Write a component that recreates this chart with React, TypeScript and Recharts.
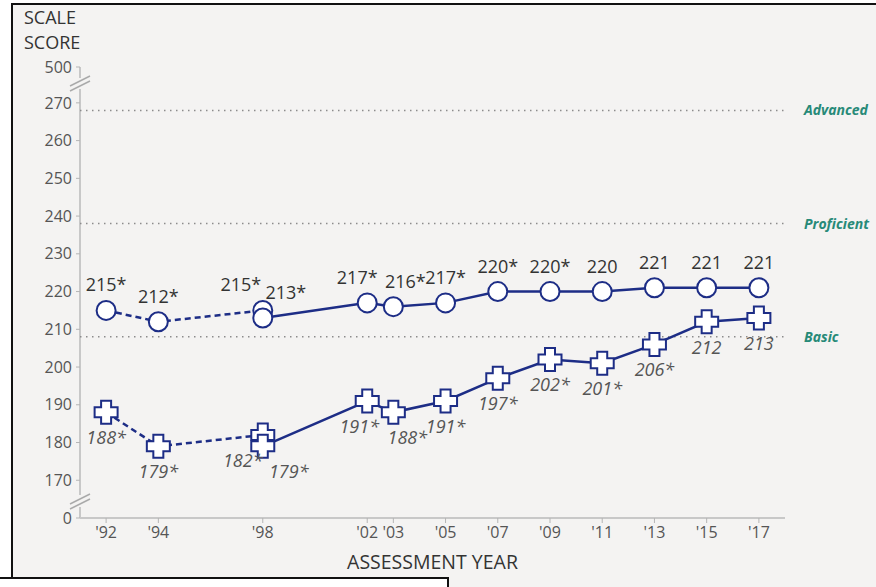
import React from 'react';
import { LineChart, Line, XAxis, YAxis, ReferenceLine, LabelList } from 'recharts';

// ---- data ----
const tickYears = [1992, 1994, 1998, 2002, 2003, 2005, 2007, 2009, 2011, 2013, 2015, 2017];
const tickYearLabels = ["'92", "'94", "'98", "'02", "'03", "'05", "'07", "'09", "'11", "'13", "'15", "'17"];
const pointYears = [1992, 1994, 1998, 1998, 2002, 2003, 2005, 2007, 2009, 2011, 2013, 2015, 2017];
const accommodationsPermitted = [false, false, false, true, true, true, true, true, true, true, true, true, true];
const circleScores = [215, 212, 215, 213, 217, 216, 217, 220, 220, 220, 221, 221, 221];
const circleSignificant = [true, true, true, true, true, true, true, true, true, false, false, false, false];
const plusScores = [188, 179, 182, 179, 191, 188, 191, 197, 202, 201, 206, 212, 213];
const plusSignificant = [true, true, true, true, true, true, true, true, true, true, true, false, false];
const scaleTickValues = [0, 170, 180, 190, 200, 210, 220, 230, 240, 250, 260, 270, 500];
const levelNames = ['Advanced', 'Proficient', 'Basic'];
const levelCutScores = [268, 238, 208];
const yAxisTitleLines = ['SCALE', 'SCORE'];

// ---- style ----
const FONT = '"Open Sans", "DejaVu Sans", sans-serif';
const NAVY = '#1d2d86';
const TEAL = '#278a78';
const AXIS = '#c8c8c8';
const W = 876;
const H = 587;

// axis break: 0 and 500 are drawn at the ends of the compressed scale
const LOW = 160;
const HIGH = 279.5;
const toDisplay = (v: number) => (v === 0 ? LOW : v === 500 ? HIGH : v);
const yTicks = scaleTickValues.map(toDisplay);

const circleDx: Record<number, number> = { 2: -22, 3: 23, 4: -10, 5: 12 };
const plusDx: Record<number, number> = { 2: -20, 3: 26, 4: -8, 5: 14 };

const segment = (scores: number[], permitted: boolean) =>
  pointYears
    .map((year, i) => ({ year, score: scores[i], idx: i }))
    .filter((d) => accommodationsPermitted[d.idx] === permitted);

const CircleDot = (p: any) => {
  const { cx, cy, index } = p;
  if (cx == null || cy == null) return <g key={`c${index}`} />;
  return <circle key={`c${index}-${cx}-${cy}`} cx={cx} cy={cy} r={9.5} fill="#fff" stroke={NAVY} strokeWidth={2} />;
};

const PlusDot = (p: any) => {
  const { cx, cy, index } = p;
  if (cx == null || cy == null) return <g key={`p${index}`} />;
  const a = 11.5;
  const b = 5;
  const d = `M${cx - b},${cy - a} H${cx + b} V${cy - b} H${cx + a} V${cy + b} H${cx + b} V${cy + a} H${cx - b} V${cy + b} H${cx - a} V${cy - b} H${cx - b} Z`;
  return <path key={`p${index}-${cx}-${cy}`} d={d} fill="#fff" stroke={NAVY} strokeWidth={2} />;
};

const circleLabel = (p: any) => {
  const { x, y, value } = p;
  const i = value as number;
  const txt = `${circleScores[i]}${circleSignificant[i] ? '*' : ''}`;
  return (
    <text key={`cl${i}`} x={x + (circleDx[i] || 0)} y={y - 26} textAnchor="middle" dominantBaseline="central"
      fontSize={18} fill="#333" fontFamily={FONT}>
      {txt}
    </text>
  );
};

const plusLabel = (p: any) => {
  const { x, y, value } = p;
  const i = value as number;
  const txt = `${plusScores[i]}${plusSignificant[i] ? '*' : ''}`;
  return (
    <text key={`pl${i}`} x={x + (plusDx[i] || 0)} y={y + 25} textAnchor="middle" dominantBaseline="central"
      fontSize={18} fill="#555" fontStyle="italic" fontFamily={FONT}>
      {txt}
    </text>
  );
};

const yr = 1 / 26.11; // years per pixel
const sc = 1 / 3.774; // score units per pixel

export default function App() {
  const series = [
    { key: 'cd', data: segment(circleScores, false), dashed: true, dot: CircleDot, label: circleLabel },
    { key: 'pd', data: segment(plusScores, false), dashed: true, dot: PlusDot, label: plusLabel },
    { key: 'cs', data: segment(circleScores, true), dashed: false, dot: CircleDot, label: circleLabel },
    { key: 'ps', data: segment(plusScores, true), dashed: false, dot: PlusDot, label: plusLabel },
  ];
  const x0 = 1991;
  const brk = (yc: number) => [
    { x: x0 - 10 * yr, y: yc - 5 * sc },
    { x: x0 + 10 * yr, y: yc + 5 * sc },
  ];
  return (
    <div style={{ position: 'absolute', left: 0, top: 0, width: W, height: H, background: '#fff', overflow: 'hidden', fontFamily: FONT }}>
      <div style={{ position: 'absolute', left: 11, top: 3, width: W + 20, height: H + 20, borderLeft: '2px solid #111', borderTop: '2px solid #111', background: '#f4f3f2' }} />
      <div style={{ position: 'absolute', left: -4, top: 577, width: 449, height: 40, border: '2px solid #111', background: '#fff' }} />
      {yAxisTitleLines.map((t, i) => (
        <div key={t} style={{ position: 'absolute', left: 24, top: 8 + i * 25, fontSize: 18, lineHeight: '18px', color: '#333', fontFamily: FONT }}>
          {t}
        </div>
      ))}
      <div style={{ position: 'absolute', left: 0, top: 0 }}>
        <LineChart width={W} height={H} margin={{ top: 67, right: 91, bottom: 0, left: 0 }}>
          <XAxis
            dataKey="year"
            type="number"
            domain={[1991, 2018]}
            ticks={tickYears}
            interval={0}
            allowDataOverflow
            tickFormatter={(v: number) => tickYearLabels[tickYears.indexOf(v)]}
            axisLine={{ stroke: AXIS, strokeWidth: 2 }}
            tickLine={{ stroke: '#b5b5b5' }}
            tickSize={5}
            tickMargin={4}
            tick={{ fill: '#555', fontSize: 16, fontFamily: FONT }}
            height={69}
            label={{ value: 'ASSESSMENT YEAR', position: 'insideBottom', offset: 18, fill: '#333', fontSize: 19.5, fontFamily: FONT }}
          />
          <YAxis
            type="number"
            domain={[LOW, HIGH]}
            ticks={yTicks}
            interval={0}
            allowDataOverflow
            tickFormatter={(v: number) => String(scaleTickValues[yTicks.indexOf(v)])}
            axisLine={false}
            tickLine={{ stroke: '#b5b5b5' }}
            tickSize={4}
            tickMargin={4}
            tick={{ fill: '#555', fontSize: 16, fontFamily: FONT }}
            width={80}
          />
          {/* broken y axis */}
          <ReferenceLine ifOverflow="visible" segment={[{ x: x0, y: HIGH }, { x: x0, y: HIGH - 11 * sc }]} stroke={AXIS} strokeWidth={2} />
          <ReferenceLine ifOverflow="visible" segment={[{ x: x0, y: HIGH - 22 * sc }, { x: x0, y: LOW + 23 * sc }]} stroke={AXIS} strokeWidth={2} />
          <ReferenceLine ifOverflow="visible" segment={[{ x: x0, y: LOW + 11 * sc }, { x: x0, y: LOW }]} stroke={AXIS} strokeWidth={2} />
          <ReferenceLine ifOverflow="visible" segment={brk(HIGH - 14 * sc)} stroke="#aaa" strokeWidth={1.5} />
          <ReferenceLine ifOverflow="visible" segment={brk(HIGH - 19 * sc)} stroke="#aaa" strokeWidth={1.5} />
          <ReferenceLine ifOverflow="visible" segment={brk(LOW + 19 * sc)} stroke="#aaa" strokeWidth={1.5} />
          <ReferenceLine ifOverflow="visible" segment={brk(LOW + 14 * sc)} stroke="#aaa" strokeWidth={1.5} />
          {levelNames.map((name, i) => (
            <ReferenceLine
              key={name}
              y={levelCutScores[i]}
              stroke="#8c8c8c"
              strokeWidth={1.5}
              strokeDasharray="1.5 4.5"
              label={{ value: name, position: 'right', offset: 19, fill: TEAL, fontSize: 14, fontWeight: 700, fontStyle: 'italic', fontFamily: FONT }}
            />
          ))}
          {series.map((s) => (
            <Line
              key={s.key}
              data={s.data}
              dataKey="score"
              type="linear"
              stroke={NAVY}
              strokeWidth={2.5}
              strokeDasharray={s.dashed ? '6 4' : undefined}
              dot={s.dot}
              activeDot={false}
              isAnimationActive={false}
            >
              <LabelList dataKey="idx" content={s.label} />
            </Line>
          ))}
        </LineChart>
      </div>
    </div>
  );
}
